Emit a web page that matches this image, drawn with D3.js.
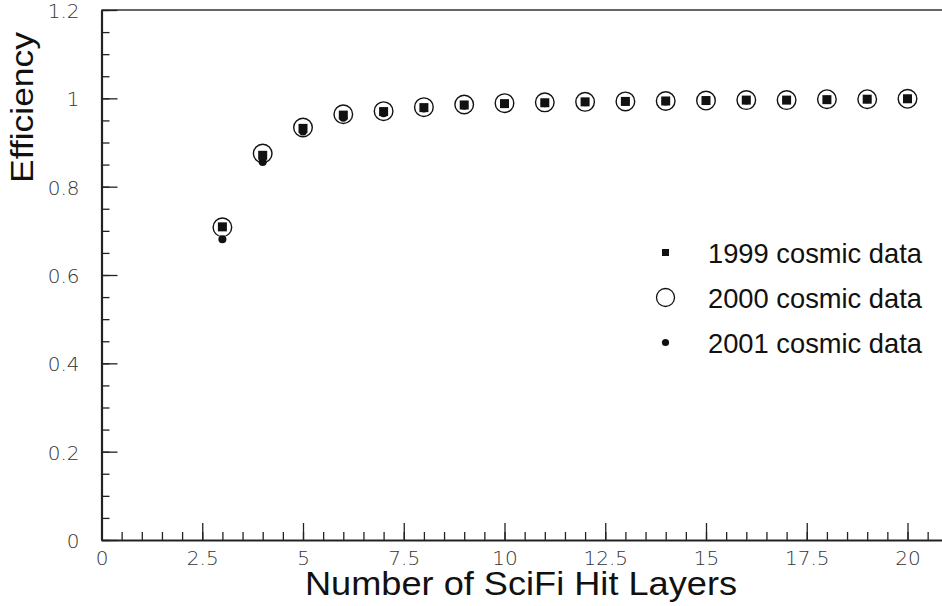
<!DOCTYPE html>
<html>
<head>
<meta charset="utf-8">
<script src="https://cdn.jsdelivr.net/npm/d3@7"></script>
<style>
  html, body { margin: 0; padding: 0; background: #fff; }
  svg { display: block; }
</style>
</head>
<body>
<svg id="chart" width="942" height="606"></svg>
<script>
// ---- data ----
const layers = [3, 4, 5, 6, 7, 8, 9, 10, 11, 12, 13, 14, 15, 16, 17, 18, 19, 20];
const eff1999 = [0.709, 0.871, 0.932, 0.962, 0.970, 0.979, 0.985, 0.988, 0.990, 0.992, 0.993, 0.994, 0.995, 0.996, 0.996, 0.997, 0.998, 0.999];
const eff2000 = [0.708, 0.875, 0.934, 0.964, 0.971, 0.980, 0.986, 0.989, 0.991, 0.992, 0.993, 0.994, 0.995, 0.996, 0.996, 0.998, 0.998, 0.999];
const eff2001 = [0.681, 0.856, 0.925, 0.956, 0.966, 0.977, 0.983, 0.987, 0.989, 0.991, 0.992, 0.993, 0.994, 0.995, 0.996, 0.997, 0.998, 0.999];
const xTicks = [0, 2.5, 5, 7.5, 10, 12.5, 15, 17.5, 20];
const yTicks = [0, 0.2, 0.4, 0.6, 0.8, 1, 1.2];
const legendLabels = ["1999 cosmic data", "2000 cosmic data", "2001 cosmic data"];
const xTitle = "Number of SciFi Hit Layers";
const yTitle = "Efficiency";

const svg = d3.select("#chart");
const x = d3.scaleLinear().domain([0, 21]).range([101.5, 101.5 + 21 * 40.3]);
const y = d3.scaleLinear().domain([0, 1.2]).range([540, 10]);

const ink = "#111";
const tickFont = "'DejaVu Sans', sans-serif";

// frame top line
svg.append("line")
  .attr("x1", x(0)).attr("x2", x(21))
  .attr("y1", y(1.2)).attr("y2", y(1.2))
  .attr("stroke", "#333").attr("stroke-width", 1.5);

// y axis minor ticks
svg.append("g")
  .attr("transform", `translate(${x(0)},0)`)
  .call(d3.axisLeft(y).tickValues(d3.range(0, 1.2001, 0.05)).tickSize(-8).tickSizeOuter(0).tickFormat(""))
  .call(g => g.select(".domain").remove())
  .call(g => g.selectAll("line").attr("stroke", "#222").attr("stroke-width", 1.3));

// y axis major
svg.append("g")
  .attr("transform", `translate(${x(0)},0)`)
  .call(d3.axisLeft(y).tickValues(yTicks).tickSize(-16).tickSizeOuter(0).tickPadding(22).tickFormat(d3.format("~g")))
  .call(g => g.select(".domain").attr("stroke", "#222").attr("stroke-width", 2.2))
  .call(g => g.selectAll("line").attr("stroke", "#222").attr("stroke-width", 1.3))
  .call(g => g.selectAll("text")
      .attr("font-family", tickFont).attr("font-weight", 200)
      .attr("font-size", 20).attr("fill", "#333").attr("dy", "0.38em"));

// x axis minor ticks
svg.append("g")
  .attr("transform", `translate(0,${y(0)})`)
  .call(d3.axisBottom(x).tickValues(d3.range(0, 21.001, 0.5)).tickSize(-8).tickSizeOuter(0).tickFormat(""))
  .call(g => g.select(".domain").remove())
  .call(g => g.selectAll("line").attr("stroke", "#222").attr("stroke-width", 1.3));

// x axis major
svg.append("g")
  .attr("transform", `translate(0,${y(0)})`)
  .call(d3.axisBottom(x).tickValues(xTicks).tickSize(-17).tickSizeOuter(0).tickPadding(11).tickFormat(d3.format("~g")))
  .call(g => g.select(".domain").attr("stroke", "#222").attr("stroke-width", 2))
  .call(g => g.selectAll("line").attr("stroke", "#222").attr("stroke-width", 1.3))
  .call(g => g.selectAll("text")
      .attr("font-family", tickFont).attr("font-weight", 200)
      .attr("font-size", 20).attr("fill", "#333"));

// axis titles
svg.append("text")
  .attr("x", 305).attr("y", 595)
  .attr("font-family", "'Liberation Sans', Arial, sans-serif")
  .attr("font-size", 33).attr("fill", ink)
  .attr("textLength", 432).attr("lengthAdjust", "spacingAndGlyphs")
  .text(xTitle);

svg.append("text")
  .attr("transform", "translate(33,107.5) rotate(-90)")
  .attr("text-anchor", "middle")
  .attr("font-family", "'Liberation Sans', Arial, sans-serif")
  .attr("font-size", 31).attr("fill", ink)
  .attr("textLength", 151).attr("lengthAdjust", "spacingAndGlyphs")
  .text(yTitle);

// data markers
const pts = layers.map((l, i) => ({ l, a: eff1999[i], b: eff2000[i], c: eff2001[i] }));

svg.append("g").selectAll("circle.open")
  .data(pts).join("circle")
  .attr("cx", d => x(d.l)).attr("cy", d => y(d.b)).attr("r", 9.3)
  .attr("fill", "none").attr("stroke", ink).attr("stroke-width", 1.4);

svg.append("g").selectAll("circle.dot")
  .data(pts).join("circle")
  .attr("cx", d => x(d.l)).attr("cy", d => y(d.c)).attr("r", 4)
  .attr("fill", ink);

const sq = 9;
svg.append("g").selectAll("rect")
  .data(pts).join("rect")
  .attr("x", d => x(d.l) - sq / 2).attr("y", d => y(d.a) - sq / 2)
  .attr("width", sq).attr("height", sq)
  .attr("fill", ink);

// legend
const legY = [252.5, 297.5, 342.5];
const lg = svg.append("g");
lg.append("rect").attr("x", 665.5 - 3.5).attr("y", legY[0] - 3.5).attr("width", 7).attr("height", 7).attr("fill", ink);
lg.append("circle").attr("cx", 665.5).attr("cy", legY[1]).attr("r", 9).attr("fill", "none").attr("stroke", ink).attr("stroke-width", 1.3);
lg.append("circle").attr("cx", 665.5).attr("cy", legY[2]).attr("r", 3.6).attr("fill", ink);
lg.selectAll("text").data(legendLabels).join("text")
  .attr("x", 708).attr("y", (d, i) => legY[i] + 10.5)
  .attr("font-family", "'Liberation Sans', Arial, sans-serif")
  .attr("font-size", 28).attr("fill", ink)
  .attr("textLength", 214).attr("lengthAdjust", "spacingAndGlyphs")
  .text(d => d);
</script>
</body>
</html>
